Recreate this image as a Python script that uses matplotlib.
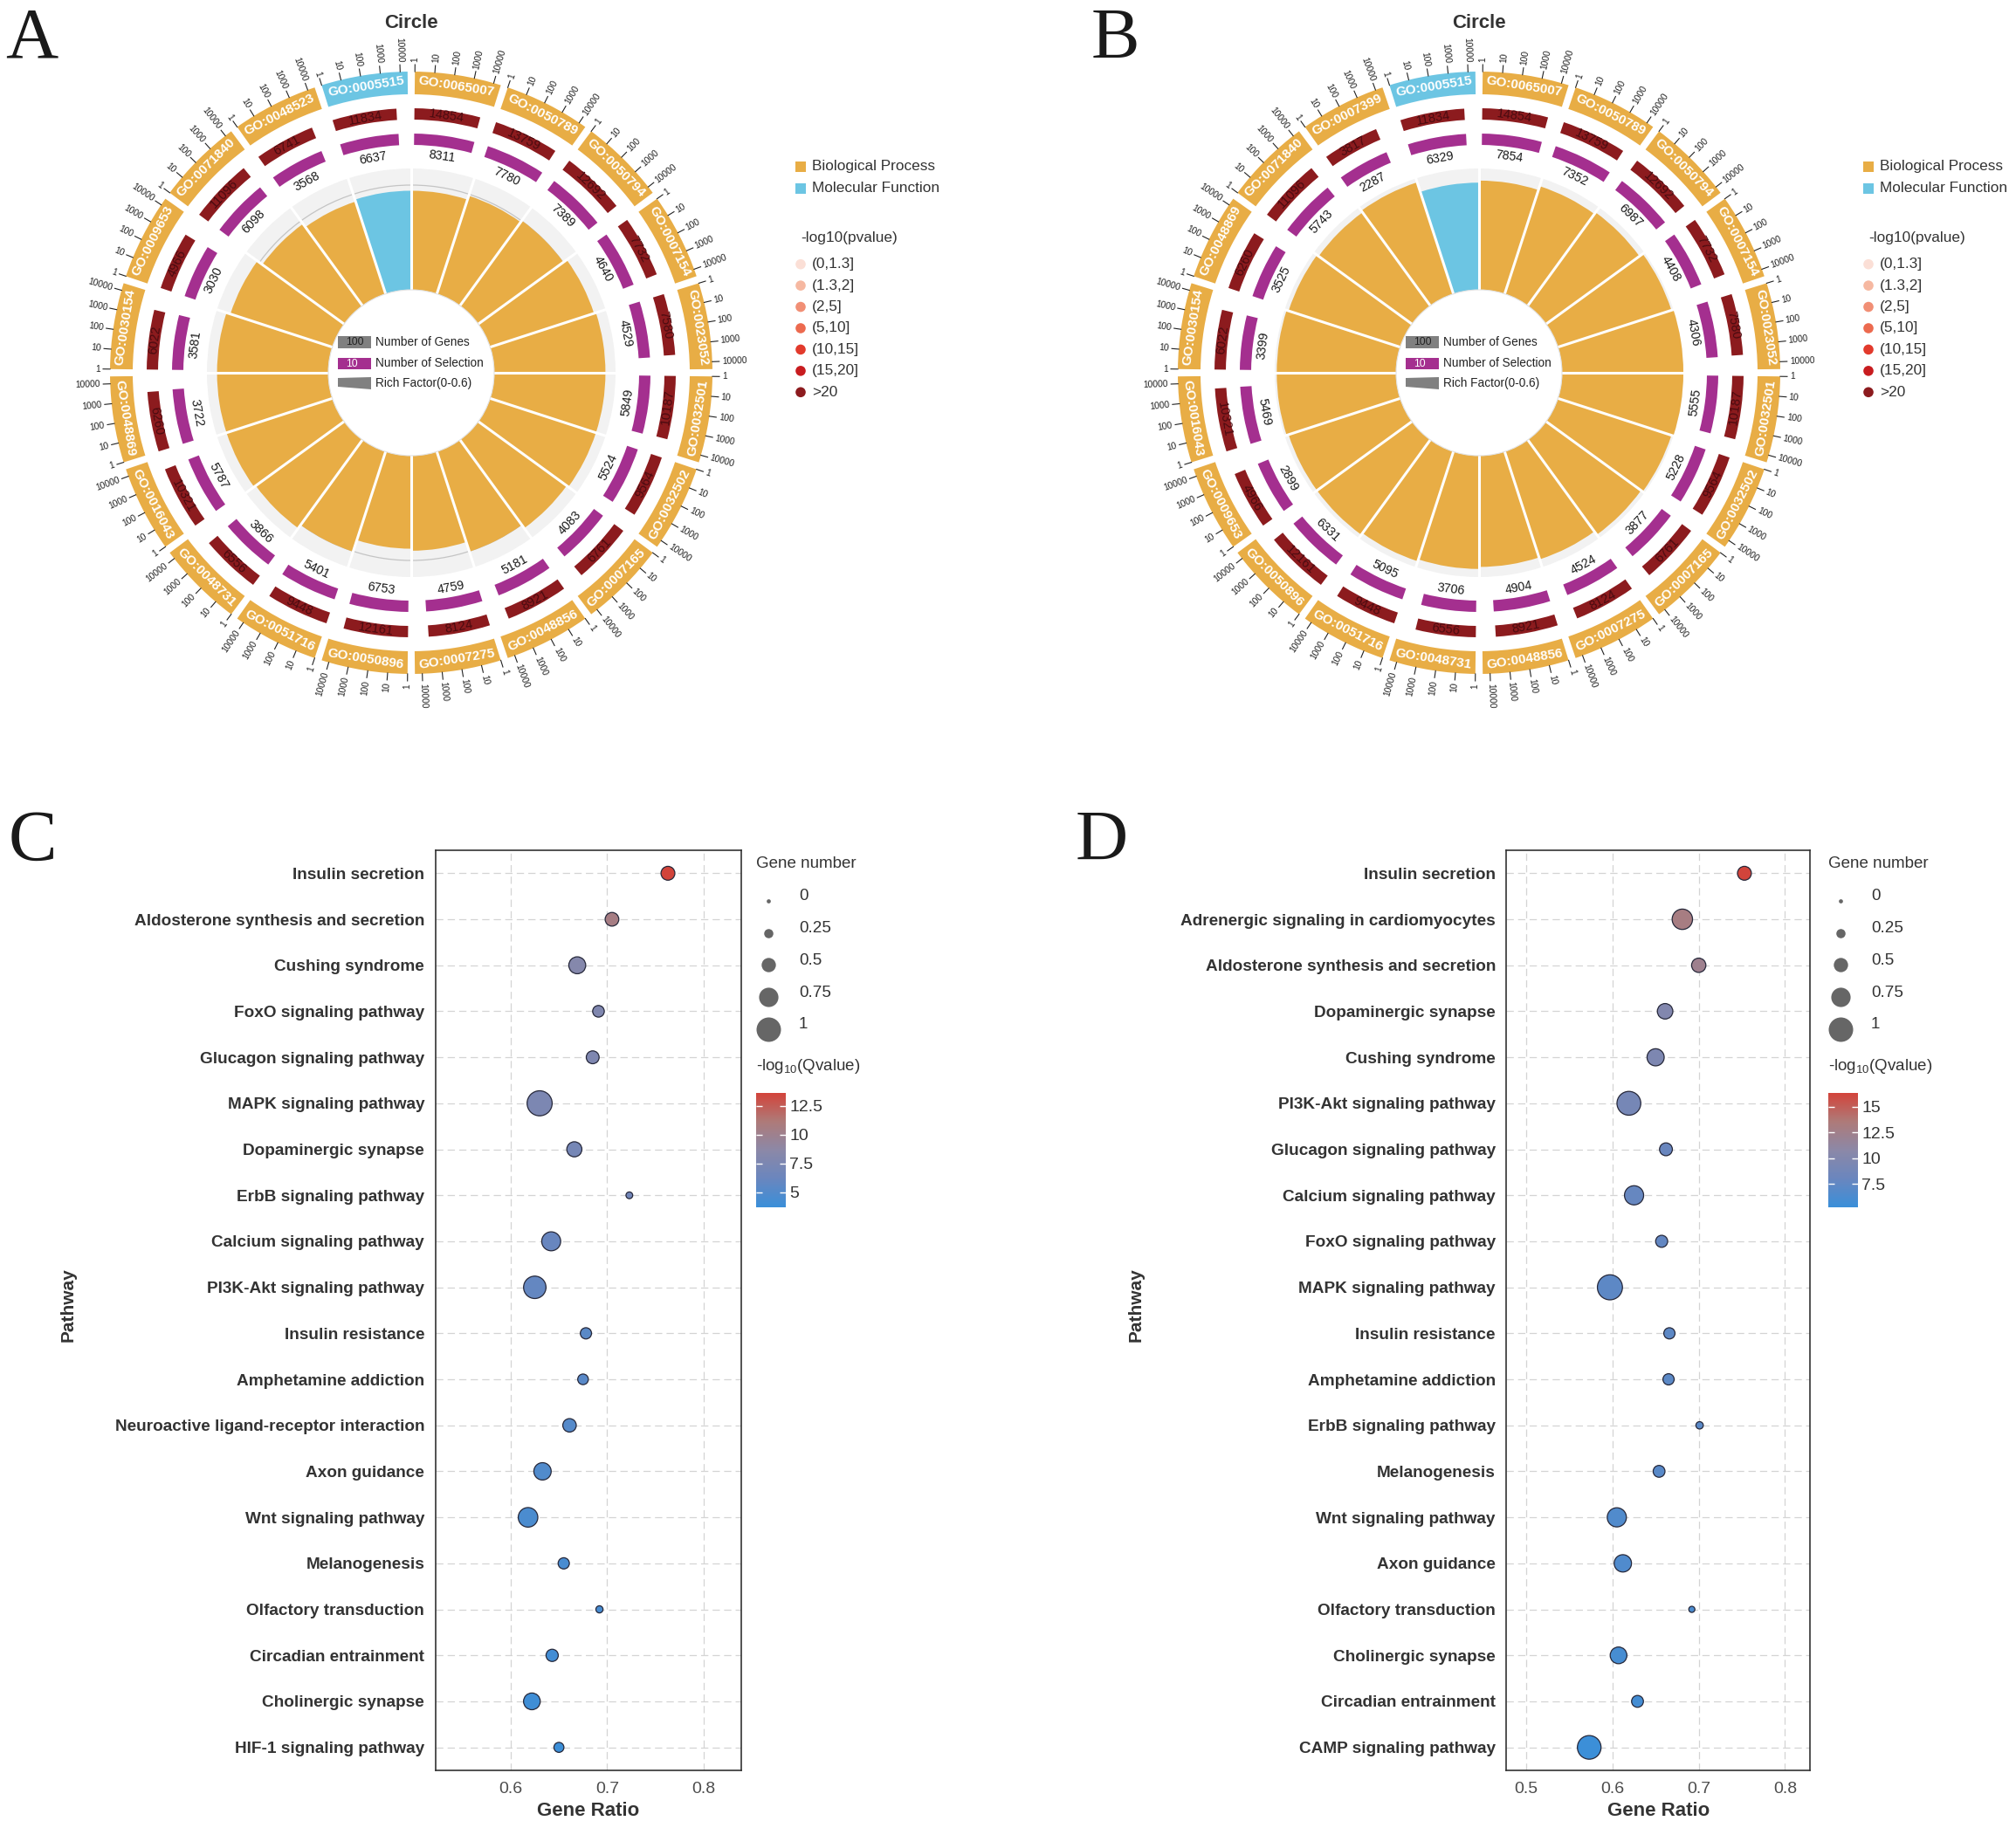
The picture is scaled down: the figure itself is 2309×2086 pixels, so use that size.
import numpy as np
import matplotlib.pyplot as plt
from matplotlib.patches import Wedge, Circle, Rectangle, Polygon
from matplotlib.colors import LinearSegmentedColormap, Normalize
from matplotlib.cm import ScalarMappable

plt.rcParams['lines.scale_dashes'] = False
plt.rcParams['font.family'] = ['Liberation Sans', 'DejaVu Sans']

W, H = 2309, 2086

# ---------------- GO circle data (clockwise from 12 o'clock) ----------------
go_a = ['GO:0065007', 'GO:0050789', 'GO:0050794', 'GO:0007154', 'GO:0023052',
        'GO:0032501', 'GO:0032502', 'GO:0007165', 'GO:0048856', 'GO:0007275',
        'GO:0050896', 'GO:0051716', 'GO:0048731', 'GO:0016043', 'GO:0048869',
        'GO:0030154', 'GO:0009653', 'GO:0071840', 'GO:0048523', 'GO:0005515']
class_a = ['BP'] * 19 + ['MF']
genes_a = [14854, 13759, 12692, 7732, 7580, 10187, 9564, 6761, 8921, 8124,
           12161, 9448, 6556, 10321, 6260, 6022, 4966, 11096, 6741, 11834]
sel_a = [8311, 7780, 7389, 4640, 4529, 5849, 5524, 4083, 5181, 4759,
         6753, 5401, 3866, 5787, 3722, 3581, 3030, 6098, 3568, 6637]
rich_a = [0.49, 0.51, 0.52, 0.54, 0.55, 0.55, 0.55, 0.54, 0.52, 0.47,
          0.46, 0.52, 0.54, 0.55, 0.55, 0.55, 0.53, 0.50, 0.48, 0.49]

go_b = ['GO:0065007', 'GO:0050789', 'GO:0050794', 'GO:0007154', 'GO:0023052',
        'GO:0032501', 'GO:0032502', 'GO:0007165', 'GO:0007275', 'GO:0048856',
        'GO:0048731', 'GO:0051716', 'GO:0050896', 'GO:0009653', 'GO:0016043',
        'GO:0030154', 'GO:0048869', 'GO:0071840', 'GO:0007399', 'GO:0005515']
class_b = ['BP'] * 19 + ['MF']
genes_b = [14854, 13759, 12692, 7732, 7580, 10187, 9564, 6761, 8124, 8921,
           6556, 9448, 12161, 4966, 10321, 6022, 6260, 11096, 3817, 11834]
sel_b = [7854, 7352, 6987, 4408, 4306, 5555, 5228, 3877, 4524, 4904,
         3706, 5095, 6331, 2899, 5469, 3399, 3525, 5743, 2287, 6329]
rich_b = [0.54, 0.56, 0.57, 0.59, 0.60, 0.60, 0.59, 0.58, 0.56, 0.55,
          0.56, 0.57, 0.58, 0.58, 0.59, 0.59, 0.58, 0.57, 0.58, 0.53]

axis_ticks = [1, 10, 100, 1000, 10000]
pval_bins = ['(0,1.3]', '(1.3,2]', '(2,5]', '(5,10]', '(10,15]', '(15,20]', '>20']
pval_cols = ['#FBDFD6', '#F6B8A1', '#F18F75', '#EC6A4F', '#E23A2C', '#C81C1F', '#8C1B1E']

# ---------------- KEGG bubble data ----------------
path_c = ['Insulin secretion', 'Aldosterone synthesis and secretion', 'Cushing syndrome',
          'FoxO signaling pathway', 'Glucagon signaling pathway', 'MAPK signaling pathway',
          'Dopaminergic synapse', 'ErbB signaling pathway', 'Calcium signaling pathway',
          'PI3K-Akt signaling pathway', 'Insulin resistance', 'Amphetamine addiction',
          'Neuroactive ligand-receptor interaction', 'Axon guidance', 'Wnt signaling pathway',
          'Melanogenesis', 'Olfactory transduction', 'Circadian entrainment',
          'Cholinergic synapse', 'HIF-1 signaling pathway']
ratio_c = [0.763, 0.705, 0.669, 0.691, 0.685, 0.630, 0.666, 0.723, 0.642, 0.625,
           0.678, 0.675, 0.661, 0.633, 0.618, 0.655, 0.692, 0.643, 0.622, 0.650]
count_c = [0.48, 0.47, 0.63, 0.37, 0.43, 1.03, 0.54, 0.13, 0.73, 0.90,
           0.35, 0.32, 0.46, 0.65, 0.76, 0.35, 0.15, 0.40, 0.62, 0.29]
q_c = [13.6, 10.6, 8.2, 7.8, 7.7, 7.5, 7.1, 6.8, 6.1, 5.9,
       5.4, 5.3, 5.1, 4.9, 4.6, 4.5, 4.4, 4.2, 4.0, 3.8]

path_d = ['Insulin secretion', 'Adrenergic signaling in cardiomyocytes',
          'Aldosterone synthesis and secretion', 'Dopaminergic synapse', 'Cushing syndrome',
          'PI3K-Akt signaling pathway', 'Glucagon signaling pathway', 'Calcium signaling pathway',
          'FoxO signaling pathway', 'MAPK signaling pathway', 'Insulin resistance',
          'Amphetamine addiction', 'ErbB signaling pathway', 'Melanogenesis',
          'Wnt signaling pathway', 'Axon guidance', 'Olfactory transduction',
          'Cholinergic synapse', 'Circadian entrainment', 'CAMP signaling pathway']
ratio_d = [0.753, 0.681, 0.700, 0.661, 0.650, 0.619, 0.662, 0.625, 0.657, 0.597,
           0.666, 0.665, 0.701, 0.654, 0.605, 0.612, 0.692, 0.607, 0.629, 0.573]
count_d = [0.48, 0.80, 0.50, 0.56, 0.64, 0.97, 0.43, 0.74, 0.39, 1.03,
           0.35, 0.35, 0.16, 0.38, 0.74, 0.65, 0.10, 0.62, 0.38, 0.96]
q_d = [16.3, 13.0, 12.3, 10.0, 9.6, 9.0, 8.0, 7.8, 7.6, 7.3,
       7.3, 7.2, 7.1, 7.0, 6.6, 6.5, 6.3, 6.0, 5.8, 5.4]

size_legend = [0, 0.25, 0.5, 0.75, 1]

c_bp = '#E8AD45'
c_mf = '#6CC5E3'
c_gene = '#8C1B1E'
c_sel = '#A42F8F'
q_cmap = LinearSegmentedColormap.from_list(
    'qv', ['#3A8FD9', '#6A86BE', '#8C88A7', '#AE7A78', '#D3433A'])

fig = plt.figure(figsize=(W / 100, H / 100), dpi=100)
ov = fig.add_axes([0, 0, 1, 1])
ov.set_xlim(0, W)
ov.set_ylim(0, H)
ov.axis('off')


def polar(cx, cy, r, cw):
    a = np.radians(cw)
    return cx + r * np.sin(a), cy + r * np.cos(a)


def tang_rot(cw):
    cw = cw % 360
    return 180 - cw if 90 < cw < 270 else -cw


def rad_rot(cw):
    ang = 90 - cw
    if np.cos(np.radians(ang)) < -1e-6:
        return ang + 180, 'right'
    return ang, 'left'


def draw_circle(cx, cy, gos, cls, genes, sels, rich):
    n = len(gos)
    step = 360 / n
    gap = 1.4
    # rich factor background + bars
    for i in range(n):
        a0, a1 = i * step, (i + 1) * step
        col = c_bp if cls[i] == 'BP' else c_mf
        ov.add_patch(Wedge((cx, cy), 234, 90 - a1, 90 - a0, width=139,
                           fc='#F2F2F2', ec='none', zorder=1))
        rr = 95 + rich[i] / 0.6 * 139
        ov.add_patch(Wedge((cx, cy), rr, 90 - a1, 90 - a0, width=rr - 95,
                           fc=col, ec='none', zorder=3))
    ov.add_patch(Circle((cx, cy), 215, fc='none', ec='#C4C4C4', lw=0.9, zorder=2))
    for i in range(n):
        x0, y0 = polar(cx, cy, 94, i * step)
        x1, y1 = polar(cx, cy, 236, i * step)
        ov.plot([x0, x1], [y0, y1], color='white', lw=2.2, zorder=4,
                solid_capstyle='butt')
    ov.add_patch(Circle((cx, cy), 95, fc='white', ec='#E2E2E2', lw=0.8, zorder=5))

    for i in range(n):
        a0 = i * step + gap / 2
        a1 = (i + 1) * step - gap / 2
        span = a1 - a0
        mid = (a0 + a1) / 2
        col = c_bp if cls[i] == 'BP' else c_mf
        # outer GO band
        ov.add_patch(Wedge((cx, cy), 345, 90 - a1, 90 - a0, width=26,
                           fc=col, ec='none', zorder=3))
        x, y = polar(cx, cy, 332, mid)
        ov.text(x, y, gos[i], rotation=tang_rot(mid), rotation_mode='anchor',
                ha='center', va='center', color='white', fontweight='bold',
                fontsize=11, zorder=6)
        # log ticks
        for v in axis_ticks:
            ang = a0 + np.log10(v) / 4.37 * span
            xa, ya = polar(cx, cy, 345, ang)
            xb, yb = polar(cx, cy, 353, ang)
            ov.plot([xa, xb], [ya, yb], color='#222222', lw=0.8, zorder=3)
            xt, yt = polar(cx, cy, 356, ang)
            rot, ha = rad_rot(ang)
            ov.text(xt, yt, str(v), rotation=rot, rotation_mode='anchor',
                    ha=ha, va='center', fontsize=7.4, color='#222222')
        # number of genes
        fg = np.log10(genes[i]) / 4.8
        ov.add_patch(Wedge((cx, cy), 303, 90 - (a0 + fg * span), 90 - a0,
                           width=13, fc=c_gene, ec='none', zorder=3))
        m = a0 + fg * span / 2
        x, y = polar(cx, cy, 296.5, m)
        ov.text(x, y, str(genes[i]), rotation=tang_rot(m), rotation_mode='anchor',
                ha='center', va='center', fontsize=10.5, color='#4A0B10', zorder=6)
        # number of selection
        fs = np.log10(sels[i]) / 4.45
        ov.add_patch(Wedge((cx, cy), 274, 90 - (a0 + fs * span), 90 - a0,
                           width=13, fc=c_sel, ec='none', zorder=3))
        m = a0 + fs * span / 2
        x, y = polar(cx, cy, 250, m)
        ov.text(x, y, str(sels[i]), rotation=tang_rot(m), rotation_mode='anchor',
                ha='center', va='center', fontsize=10.3, color='#1A1A1A', zorder=6)

    # centre key
    ov.add_patch(Rectangle((cx - 84, cy + 28), 38, 14, fc='#808080', ec='none', zorder=6))
    ov.text(cx - 65, cy + 35, '100', ha='center', va='center', fontsize=8.8,
            color='#222222', zorder=7)
    ov.text(cx - 41, cy + 35, 'Number of Genes', ha='left', va='center',
            fontsize=9.8, color='#222222', zorder=7)
    ov.add_patch(Rectangle((cx - 84, cy + 4), 38, 13, fc=c_sel, ec='none', zorder=6))
    ov.text(cx - 68, cy + 10.5, '10', ha='center', va='center', fontsize=8.8,
            color='white', zorder=7)
    ov.text(cx - 41, cy + 10.5, 'Number of Selection', ha='left', va='center',
            fontsize=9.8, color='#222222', zorder=7)
    ov.add_patch(Polygon([(cx - 84, cy - 6), (cx - 46, cy - 5), (cx - 46, cy - 19),
                          (cx - 84, cy - 16)], fc='#808080', ec='none', zorder=6))
    ov.text(cx - 41, cy - 12.5, 'Rich Factor(0-0.6)', ha='left', va='center',
            fontsize=9.8, color='#222222', zorder=7)
    ov.text(cx, H - 26, 'Circle', ha='center', va='center', fontsize=16,
            fontweight='bold', color='#333333')


def circle_legend(x0):
    for k, (lab, col) in enumerate([('Biological Process', c_bp),
                                   ('Molecular Function', c_mf)]):
        yc = H - (191 + 24.5 * k)
        ov.add_patch(Rectangle((x0 - 5, yc - 6), 12, 12, fc=col, ec='none'))
        ov.text(x0 + 14, yc, lab, ha='left', va='center', fontsize=12.4,
                color='#333333')
    ov.text(x0 + 1, H - 273, '-log10(pvalue)', ha='left', va='center',
            fontsize=12.4, color='#333333')
    for k, (lab, col) in enumerate(zip(pval_bins, pval_cols)):
        yc = H - (302.7 + 24.43 * k)
        ov.add_patch(Circle((x0 + 1, yc), 5.8, fc=col, ec='none'))
        ov.text(x0 + 14, yc, lab, ha='left', va='center', fontsize=12.4,
                color='#333333')


draw_circle(471, H - 427, go_a, class_a, genes_a, sel_a, rich_a)
draw_circle(1694, H - 427, go_b, class_b, genes_b, sel_b, rich_b)
circle_legend(916)
circle_legend(2139)


def dia_pt(v):
    return (4.7 + 23.3 * np.asarray(v, dtype=float)) * 0.72


def bubble(left, right, paths, ratio, count, qv, xlim, xticks, vmin, vmax,
           cticks, leg_x, lab_x):
    top, bottom = 974, 2028
    ax = fig.add_axes([left / W, 1 - bottom / H, (right - left) / W, (bottom - top) / H])
    n = len(paths)
    y = np.arange(n)[::-1]
    ax.set_xlim(*xlim)
    ax.set_ylim(-0.5, n - 0.5)
    ax.set_yticks(y)
    ax.set_yticklabels(paths, fontweight='bold', fontsize=13.7, color='#333333')
    ax.set_xticks(xticks)
    ax.set_xticklabels([f'{t:g}' for t in xticks], fontsize=14, color='#4D4D4D')
    ax.tick_params(length=0, pad=9)
    ax.grid(True, color='#D4D4D4', lw=0.9, linestyle=(0, (6, 3.5)))
    ax.set_axisbelow(True)
    for s in ax.spines.values():
        s.set_color('#333333')
        s.set_linewidth(1.2)
    norm = Normalize(vmin, vmax)
    ax.scatter(ratio, y, s=dia_pt(count) ** 2, c=qv, cmap=q_cmap, norm=norm,
               edgecolors='#26283A', linewidths=0.9, zorder=3)
    fig.text((left + right) / 2 / W, 1 - 2075 / H, 'Gene Ratio', ha='center',
             va='center', fontsize=16, fontweight='bold', color='#333333')
    fig.text(lab_x / W, 1 - 1495 / H, 'Pathway', ha='center', va='center',
             rotation=90, fontsize=15, fontweight='bold', color='#333333')

    # size legend
    ov.text(leg_x, H - 989, 'Gene number', ha='left', va='center', fontsize=13.5,
            color='#333333')
    for k, v in enumerate(size_legend):
        yc = H - (1031.7 + 36.8 * k)
        ov.scatter([leg_x + 14], [yc], s=dia_pt(v) ** 2, color='#666666', lw=0)
        ov.text(leg_x + 49, yc + 5, f'{v:g}', ha='left', va='center', fontsize=13.6,
                color='#333333')
    ov.text(leg_x, H - 1222, r'-log$_{10}$(Qvalue)', ha='left', va='center',
            fontsize=13.5, color='#333333')
    cax = fig.add_axes([leg_x / W, 1 - 1383 / H, 34 / W, 131.5 / H])
    cb = fig.colorbar(ScalarMappable(norm=norm, cmap=q_cmap), cax=cax)
    cb.outline.set_visible(False)
    cb.set_ticks(cticks)
    cb.set_ticklabels([f'{t:g}' for t in cticks])
    cax.yaxis.set_ticks_position('both')
    cax.tick_params(direction='in', length=5, width=1, color='white',
                    labelcolor='#333333', labelsize=14, labelleft=False,
                    labelright=True, pad=3)


plt.rcParams['mathtext.fontset'] = 'custom'
plt.rcParams['mathtext.rm'] = 'Liberation Sans'
plt.rcParams['mathtext.default'] = 'rm'

bubble(498.7, 849, path_c, ratio_c, count_c, q_c, (0.522, 0.839), [0.6, 0.7, 0.8],
       3.70, 13.64, [5, 7.5, 10, 12.5], 866, 78)
bubble(1725.4, 2073, path_d, ratio_d, count_d, q_d, (0.477, 0.829),
       [0.5, 0.6, 0.7, 0.8], 5.23, 16.37, [7.5, 10, 12.5, 15], 2094, 1301)

# panel letters
for lab, x, y in [('A', 6, 66), ('B', 1250, 66), ('C', 10, 985), ('D', 1232, 985)]:
    fig.text(x / W, 1 - y / H, lab, ha='left', va='baseline', fontsize=60,
             family='Liberation Serif', color='#1A1A1A')

fig.savefig('out.png', dpi=100)
